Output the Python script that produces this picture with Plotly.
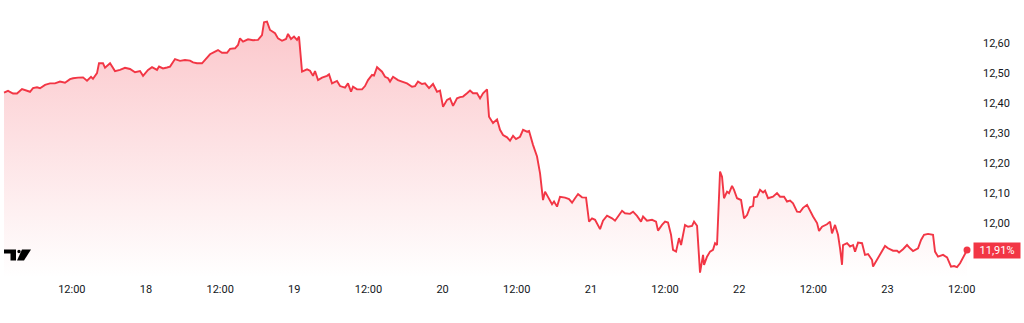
import pandas as pd
import plotly.graph_objects as go

# ---- data (hours since day 17 00:00, yield %) ----
BASE_DATE = "2025-03-17"
hours = [1.02, 1.67, 2.48, 3.12, 3.93, 4.74, 5.23, 5.71, 6.36, 6.85, 7.66, 8.46, 9.27, 10.08, 10.89,
         11.70, 12.19, 13.00, 13.81, 14.45, 15.10, 15.42, 16.07, 16.39, 17.04, 17.37, 18.18, 18.98,
         19.79, 20.60, 21.41, 22.22, 23.03, 23.52, 24.33, 24.97, 25.78, 26.11, 26.75, 27.40, 27.89,
         28.69, 29.50, 30.31, 31.12, 31.61, 32.26, 33.06, 33.87, 34.36, 35.17, 35.65, 36.30, 37.11,
         37.60, 38.41, 38.89, 39.21, 39.70, 40.51, 41.32, 42.13, 42.77, 43.10, 43.58, 44.07, 44.88,
         45.36, 46.01, 46.66, 46.98, 47.47, 47.95, 48.44, 48.76, 49.25, 50.06, 50.54, 51.03, 51.35,
         51.84, 52.49, 53.29, 53.62, 54.10, 54.91, 55.40, 56.21, 56.69, 57.18, 57.50, 58.15, 58.96,
         59.44, 59.93, 60.58, 60.90, 61.39, 62.20, 62.68, 63.17, 63.49, 63.98, 64.78, 65.43, 66.24,
         67.05, 67.54, 68.02, 68.67, 69.15, 69.80, 70.45, 71.10, 71.58, 72.07, 72.72, 73.20, 73.69,
         74.33, 74.82, 75.30, 75.95, 76.44, 76.92, 77.57, 78.06, 78.54, 79.19, 79.51, 80.16, 80.81,
         81.29, 81.78, 82.43, 82.91, 83.40, 83.88, 84.53, 85.02, 85.66, 85.99, 86.63, 87.28, 87.77,
         88.25, 88.58, 89.06, 89.71, 90.03, 90.52, 91.00, 91.81, 92.46, 92.95, 93.43, 93.92, 94.56,
         95.21, 95.70, 96.18, 96.67, 97.48, 97.96, 98.61, 99.42, 99.90, 100.39, 101.04, 101.52,
         102.33, 102.82, 103.46, 104.11, 104.44, 105.08, 105.89, 106.54, 106.86, 107.51, 108.00,
         108.48, 108.97, 109.29, 109.78, 110.26, 110.59, 111.23, 111.72, 112.37, 112.69, 113.18,
         113.66, 114.15, 114.31, 114.79, 115.28, 115.76, 116.09, 116.41, 116.90, 117.22, 117.54,
         118.03, 118.35, 118.84, 119.16, 119.65, 120.30, 120.78, 121.27, 121.75, 122.24, 122.40,
         122.89, 123.37, 123.86, 124.18, 124.67, 125.47, 126.12, 126.61, 127.26, 127.74, 128.23,
         128.71, 129.36, 129.84, 130.33, 130.98, 131.46, 131.95, 132.60, 132.92, 133.41, 134.21,
         134.70, 135.02, 135.51, 135.99, 136.32, 136.64, 136.80, 137.45, 137.94, 138.42, 138.75,
         139.23, 139.88, 140.36, 140.85, 141.50, 141.66, 142.31, 143.12, 143.60, 144.09, 144.90,
         145.54, 145.87, 146.51, 147.16, 147.65, 148.13, 148.94, 149.43, 149.91, 150.56, 151.37,
         151.69, 152.18, 152.99, 153.64, 154.28, 154.77, 155.25, 155.74, 156.22, 156.87]
yields = [12.435, 12.441, 12.432, 12.432, 12.447, 12.441, 12.438, 12.450, 12.453, 12.450, 12.461,
          12.466, 12.466, 12.472, 12.468, 12.480, 12.483, 12.485, 12.486, 12.475, 12.488, 12.481,
          12.500, 12.533, 12.533, 12.518, 12.533, 12.507, 12.511, 12.518, 12.514, 12.503, 12.507,
          12.491, 12.511, 12.520, 12.511, 12.522, 12.516, 12.519, 12.522, 12.547, 12.541, 12.544,
          12.542, 12.536, 12.533, 12.533, 12.550, 12.563, 12.572, 12.577, 12.568, 12.568, 12.581,
          12.583, 12.594, 12.616, 12.605, 12.613, 12.610, 12.611, 12.627, 12.670, 12.672, 12.644,
          12.633, 12.616, 12.608, 12.614, 12.631, 12.614, 12.622, 12.611, 12.622, 12.505, 12.513,
          12.508, 12.491, 12.507, 12.477, 12.485, 12.491, 12.496, 12.466, 12.474, 12.457, 12.452,
          12.466, 12.438, 12.455, 12.446, 12.446, 12.457, 12.477, 12.494, 12.492, 12.520, 12.505,
          12.488, 12.483, 12.472, 12.488, 12.477, 12.472, 12.466, 12.455, 12.457, 12.472, 12.464,
          12.466, 12.450, 12.464, 12.438, 12.442, 12.388, 12.411, 12.416, 12.391, 12.416, 12.420,
          12.422, 12.433, 12.442, 12.433, 12.433, 12.416, 12.433, 12.446, 12.355, 12.334, 12.346,
          12.311, 12.294, 12.286, 12.275, 12.291, 12.280, 12.288, 12.311, 12.305, 12.307, 12.261,
          12.222, 12.166, 12.077, 12.105, 12.088, 12.063, 12.072, 12.055, 12.088, 12.085, 12.080,
          12.068, 12.083, 12.097, 12.086, 12.085, 12.005, 12.016, 12.011, 11.980, 12.008, 12.025,
          12.016, 12.008, 12.022, 12.041, 12.033, 12.031, 12.038, 12.024, 12.005, 12.022, 12.008,
          12.011, 12.005, 11.975, 11.994, 12.005, 12.002, 11.961, 11.911, 11.905, 11.950, 11.927,
          11.994, 11.988, 11.991, 12.005, 11.991, 11.835, 11.894, 11.861, 11.888, 11.905, 11.911,
          11.933, 11.927, 12.172, 12.155, 12.083, 12.105, 12.100, 12.124, 12.111, 12.083, 12.077,
          12.016, 12.027, 12.053, 12.057, 12.086, 12.088, 12.111, 12.102, 12.108, 12.083, 12.088,
          12.100, 12.088, 12.088, 12.072, 12.075, 12.066, 12.038, 12.037, 12.051, 12.061, 12.041,
          12.022, 12.000, 11.974, 11.988, 11.996, 12.005, 11.966, 11.994, 11.961, 11.916, 11.861,
          11.927, 11.933, 11.922, 11.927, 11.905, 11.935, 11.933, 11.894, 11.897, 11.877, 11.855,
          11.877, 11.905, 11.924, 11.916, 11.908, 11.908, 11.902, 11.913, 11.927, 11.916, 11.907,
          11.916, 11.944, 11.961, 11.964, 11.961, 11.905, 11.888, 11.894, 11.886, 11.855, 11.857,
          11.853, 11.866, 11.886, 11.910]

tick_hours = [12, 24, 36, 48, 60, 72, 84, 96, 108, 120, 132, 144, 156]
tick_text = ["12:00", "18", "12:00", "19", "12:00", "20", "12:00", "21", "12:00", "22", "12:00", "23", "12:00"]
y_ticks = [12.0, 12.1, 12.2, 12.3, 12.4, 12.5, 12.6]

# ---- styling ----
RED = "#F23645"
TEXT = "#131722"
FONT = "Roboto"
X_RANGE_H = [0.37, 158.16]
Y_RANGE = [11.817, 12.744]

base = pd.Timestamp(BASE_DATE)
times = base + pd.to_timedelta(hours, unit="h")
tick_times = base + pd.to_timedelta(tick_hours, unit="h")
x_range = list(base + pd.to_timedelta(X_RANGE_H, unit="h"))

fig = go.Figure()
fig.add_trace(go.Scatter(
    x=times, y=yields, mode="lines",
    line=dict(color=RED, width=1.9),
    fill="tozeroy",
    fillgradient=dict(type="vertical",
                      colorscale=[[0, "rgba(242,54,69,0.0)"], [1, "rgba(242,54,69,0.28)"]],
                      start=Y_RANGE[0], stop=max(yields)),
    hoverinfo="skip", showlegend=False,
))
fig.add_trace(go.Scatter(
    x=[times[-1]], y=[yields[-1]], mode="markers",
    marker=dict(color=RED, size=7), hoverinfo="skip", showlegend=False,
))

last_label = f"{yields[-1]:.2f}".replace(".", ",") + "%"
fig.add_annotation(
    x=1, xref="paper", y=yields[-1], yref="y", xanchor="left", yanchor="middle",
    xshift=-2, text=last_label, showarrow=False,
    font=dict(family=FONT, size=11, color="white"),
    bgcolor=RED, borderpad=1, width=44, height=13, align="center",
)

# TradingView-style logo (decoration)
logo = dict(xref="paper", yref="paper", xsizemode="pixel", ysizemode="pixel",
            xanchor=0, yanchor=0, fillcolor="#000000", line=dict(width=0), layer="above")
fig.add_shape(type="path", path="M4,28.5 L16,28.5 L16,17.5 L10.5,17.5 L10.5,24.5 L4,24.5 Z", **logo)
fig.add_shape(type="circle", x0=17.3, x1=20.7, y0=24.8, y1=28.2, **logo)
fig.add_shape(type="path", path="M22,28.5 L31,28.5 L24,17.5 L17,17.5 Z", **logo)

fig.update_layout(
    width=1024, height=323,
    margin=dict(l=0, r=49, t=0, b=45),
    paper_bgcolor="white", plot_bgcolor="white",
    separators=",.",
    font=dict(family=FONT, size=11, color=TEXT),
    xaxis=dict(type="date", range=x_range, tickvals=tick_times, ticktext=tick_text,
               showgrid=False, zeroline=False, showline=False, ticks="",
               ticklabelstandoff=3,
               tickfont=dict(family=FONT, size=11, color=TEXT)),
    yaxis=dict(side="right", range=Y_RANGE, tickvals=y_ticks, tickformat=".2f",
               ticksuffix="%", showgrid=False, zeroline=False, showline=False, ticks="",
               ticklabelstandoff=7,
               tickfont=dict(family=FONT, size=11, color=TEXT)),
)

fig.write_html("out.html")
